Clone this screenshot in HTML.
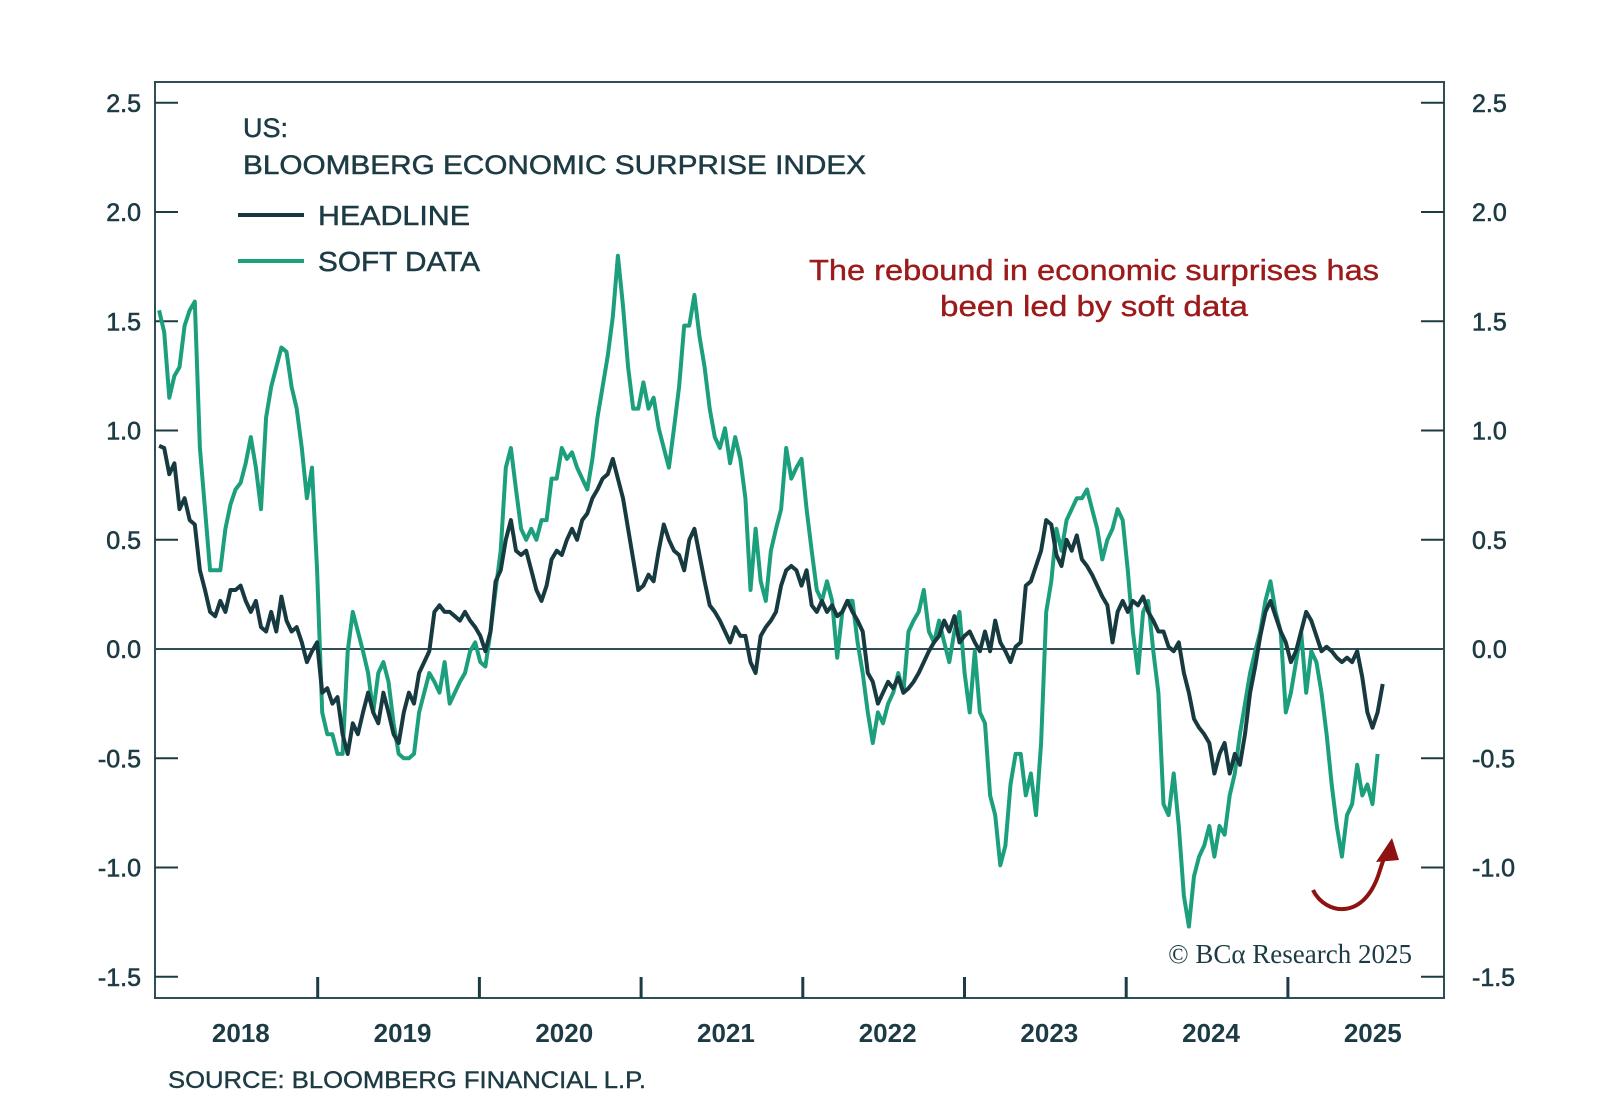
<!DOCTYPE html>
<html><head><meta charset="utf-8"><style>
html,body{margin:0;padding:0;background:#fff;}
svg{display:block;font-family:"Liberation Sans",sans-serif;}
</style></head><body>
<svg id="chart" width="1600" height="1107" viewBox="0 0 1600 1107">
<g id="axes"></g>
<g id="series"></g>
<text x="243" y="137" font-size="27" fill="#1d3b44" stroke="#1d3b44" stroke-width="0.5">US:</text>
<text x="243" y="174" font-size="27" fill="#1d3b44" stroke="#1d3b44" stroke-width="0.5" textLength="623" lengthAdjust="spacingAndGlyphs">BLOOMBERG ECONOMIC SURPRISE INDEX</text>
<g>
<line x1="238" y1="215" x2="304" y2="215" stroke="#173a40" stroke-width="4"/>
<text x="318" y="225" font-size="28" fill="#1d3b44" stroke="#1d3b44" stroke-width="0.5" textLength="152" lengthAdjust="spacingAndGlyphs">HEADLINE</text></g>
<g>
<line x1="238" y1="261" x2="304" y2="261" stroke="#1c9f7c" stroke-width="4"/>
<text x="318" y="271" font-size="28" fill="#1d3b44" stroke="#1d3b44" stroke-width="0.5" textLength="162" lengthAdjust="spacingAndGlyphs">SOFT DATA</text></g>
<text x="1094" y="280" font-size="29" fill="#9b1b1b" stroke="#9b1b1b" stroke-width="0.4" text-anchor="middle" textLength="570" lengthAdjust="spacingAndGlyphs">The rebound in economic surprises has</text>
<text x="1094" y="316" font-size="29" fill="#9b1b1b" stroke="#9b1b1b" stroke-width="0.4" text-anchor="middle" textLength="308" lengthAdjust="spacingAndGlyphs">been led by soft data</text>
<g>
<path d="M1313,890 C1325,915 1365,922 1380,870 L1385,855" fill="none" stroke="#8f1212" stroke-width="4"/>
<polygon points="1376,862 1399,860 1392,838" fill="#8f1212"/></g>
<text x="1412" y="963" font-size="27" fill="#1d3b44" text-anchor="end" font-family="Liberation Serif, serif">© BCα Research 2025</text>
<text x="168" y="1088" font-size="24" fill="#1d3b44" stroke="#1d3b44" stroke-width="0.4" textLength="478" lengthAdjust="spacingAndGlyphs">SOURCE: BLOOMBERG FINANCIAL L.P.</text>
</svg>
<script>
const yTicks=[2.5,2.0,1.5,1.0,0.5,0.0,-0.5,-1.0,-1.5];
const yTickLabels=["2.5","2.0","1.5","1.0","0.5","0.0","-0.5","-1.0","-1.5"];
const years=[2018,2019,2020,2021,2022,2023,2024,2025];
const yearLabels=["2018","2019","2020","2021","2022","2023","2024","2025"];
const startDate=2018.019;
const stepYears=0.03153;
const headline=[.93,.92,.80,.85,.64,.69,.59,.57,.36,.27,.17,.15,.22,.17,.27,.27,.29,.22,.17,.22,.10,.08,.17,.08,.24,.13,.08,.10,.03,-.06,-.01,.03,-.20,-.18,-.25,-.22,-.39,-.48,-.34,-.39,-.29,-.20,-.29,-.34,-.20,-.29,-.39,-.43,-.29,-.20,-.25,-.11,-.06,-.01,.17,.20,.17,.17,.15,.13,.17,.13,.10,.06,-.01,.08,.31,.36,.50,.59,.45,.43,.45,.36,.27,.22,.29,.41,.45,.43,.50,.55,.50,.59,.62,.69,.73,.78,.80,.87,.78,.69,.55,.41,.27,.29,.34,.31,.45,.57,.50,.45,.43,.36,.50,.55,.43,.31,.20,.17,.13,.08,.03,.10,.06,.06,-.06,-.11,.06,.10,.13,.17,.29,.36,.38,.36,.29,.36,.20,.17,.22,.17,.20,.15,.17,.22,.17,.13,.08,-.11,-.15,-.25,-.20,-.15,-.18,-.13,-.20,-.18,-.15,-.11,-.06,-.01,.03,.06,.13,.08,.15,.03,.06,.08,.03,-.01,.08,-.01,.13,.03,-.01,-.06,.01,.03,.29,.31,.38,.45,.59,.57,.43,.38,.50,.45,.52,.41,.38,.34,.29,.24,.20,.03,.17,.22,.17,.22,.20,.24,.17,.13,.08,.08,.01,-.01,.03,-.11,-.20,-.32,-.36,-.39,-.43,-.57,-.48,-.43,-.57,-.48,-.53,-.39,-.20,-.08,.06,.17,.22,.15,.08,.03,-.06,-.01,.08,.17,.13,.06,-.01,.01,-.01,-.04,-.06,-.04,-.06,-.01,-.13,-.29,-.36,-.29,-.16];
const softData=[1.55,1.45,1.15,1.25,1.29,1.48,1.55,1.59,.92,.64,.36,.36,.36,.55,.66,.73,.76,.85,.97,.83,.64,1.06,1.20,1.29,1.38,1.36,1.20,1.10,.92,.69,.83,.36,-.29,-.39,-.39,-.48,-.48,-.01,.17,.08,-.01,-.11,-.29,-.11,-.06,-.15,-.34,-.48,-.50,-.50,-.48,-.29,-.20,-.11,-.15,-.20,-.06,-.25,-.20,-.15,-.11,-.01,.03,-.06,-.08,.08,.27,.45,.83,.92,.73,.55,.50,.55,.50,.59,.59,.78,.78,.92,.87,.90,.83,.78,.73,.87,1.06,1.20,1.34,1.52,1.80,1.57,1.29,1.10,1.10,1.22,1.10,1.15,1.01,.92,.83,1.01,1.20,1.48,1.48,1.62,1.43,1.29,1.10,.97,.92,1.01,.85,.97,.87,.69,.27,.55,.31,.22,.45,.55,.64,.92,.78,.83,.87,.64,.45,.27,.22,.31,.22,-.04,.17,.22,.22,.03,-.11,-.29,-.43,-.29,-.34,-.25,-.20,-.11,-.20,.08,.13,.17,.27,.08,.03,.13,.03,-.06,.08,.17,-.11,-.29,-.01,-.29,-.34,-.67,-.76,-.99,-.90,-.62,-.48,-.48,-.67,-.57,-.76,-.43,.17,.31,.55,.45,.59,.64,.69,.69,.73,.64,.55,.41,.50,.55,.64,.59,.36,.08,-.11,.17,.22,-.01,-.20,-.71,-.76,-.57,-.81,-1.13,-1.27,-1.04,-.95,-.90,-.81,-.95,-.81,-.85,-.67,-.57,-.39,-.25,-.11,-.01,.08,.22,.31,.17,.08,-.29,-.20,-.06,.08,-.20,-.01,-.06,-.20,-.39,-.62,-.81,-.95,-.76,-.71,-.53,-.67,-.62,-.71,-.48];

const NS="http://www.w3.org/2000/svg";
const L=155,R=1444,T=82,B=998;
function xScale(t){return 156+(t-2018)*161.7;}
function yScale(v){return 649-v*218.5;}
function mk(tag,attrs,parent){const e=document.createElementNS(NS,tag);for(const k in attrs)e.setAttribute(k,attrs[k]);parent.appendChild(e);return e;}
const axes=document.getElementById('axes');
const C="#1d3b44";
const frame=mk('rect',{x:L,y:T,width:R-L,height:B-T,fill:'none',stroke:'#2e4f58','stroke-width':2},axes);


yTicks.forEach((v,i)=>{
  const y=yScale(v);
  const tl=mk('line',{x1:L,y1:y,x2:L+23,y2:y,stroke:C,'stroke-width':2},axes);
  
  
  const tr=mk('line',{x1:R-23,y1:y,x2:R,y2:y,stroke:C,'stroke-width':2},axes);
  
  
  const a=mk('text',{x:141,y:y+9,'font-size':25,fill:C,stroke:C,'stroke-width':0.6,'text-anchor':'end'},axes);
  a.textContent=yTickLabels[i];
  
  
  const b=mk('text',{x:1472,y:y+9,'font-size':25,fill:C,stroke:C,'stroke-width':0.6},axes);
  b.textContent=yTickLabels[i];
  
  
});
const z=mk('line',{x1:L,y1:yScale(0),x2:R,y2:yScale(0),stroke:'#2e4f58','stroke-width':2},axes);


years.forEach((yr,i)=>{
  const x=xScale(yr);
  if(i>0){const t=mk('line',{x1:x,y1:B,x2:x,y2:B-21,stroke:C,'stroke-width':3},axes);
  
  }
  const lbl=mk('text',{x:xScale(yr+0.5)+4,y:1042,'font-size':26,fill:C,'text-anchor':'middle','font-weight':'bold'},axes);
  lbl.textContent=yearLabels[i];
  
  
});
const series=document.getElementById('series');
function draw(vals,color,name){
  const pts=vals.map((v,i)=>xScale(startDate+i*stepYears).toFixed(1)+','+yScale(v).toFixed(1)).join(' ');
  const p=mk('polyline',{points:pts,fill:'none',stroke:color,'stroke-width':4,'stroke-linejoin':'round'},series);
  
  
}
draw(softData,'#1c9f7c','soft-data-line');
draw(headline,'#173a40','headline-line');
</script>
</body></html>
